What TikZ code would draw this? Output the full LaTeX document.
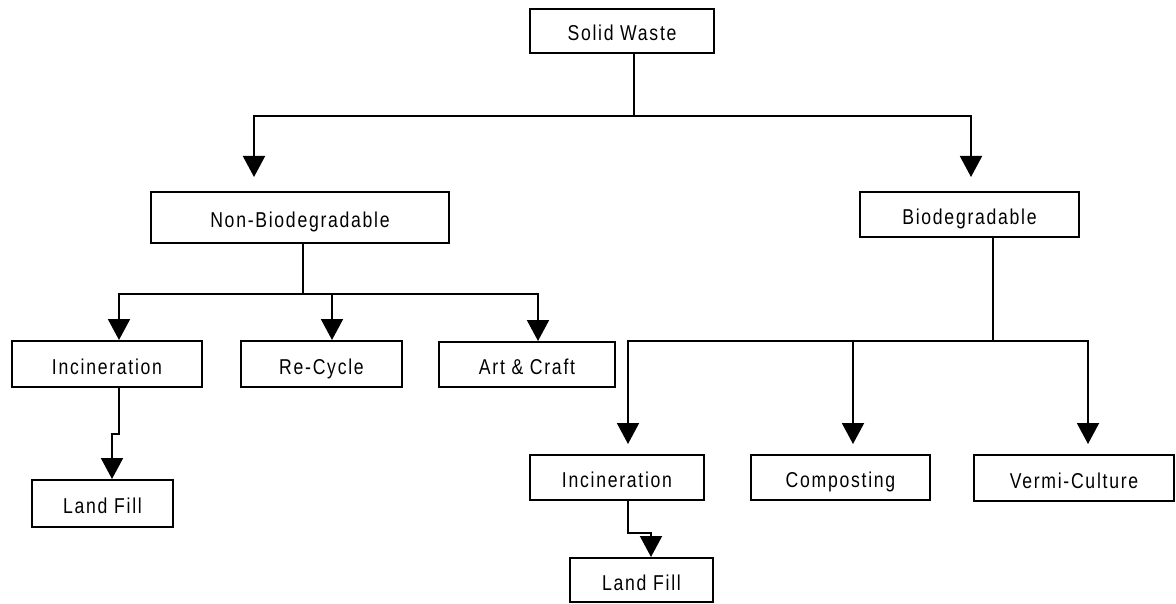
\documentclass[tikz,border=0pt]{standalone}
\usepackage{fontspec}
\setmainfont{Liberation Sans}[FakeStretch=0.82, LetterSpace=8]
\usetikzlibrary{arrows.meta}

\tikzset{
	box/.style={draw, line width=2pt, inner sep=0pt, text height=22pt, text depth=2pt,
		font=\fontsize{21.5}{26}\selectfont},
	arr/.style={line width=2pt, -{Triangle[width=22pt, length=21pt]}}
}

\begin{document}
\begin{tikzpicture}[x=1pt, y=-1pt]
	\useasboundingbox (0,0) rectangle (1176,604);
	
	% top level
	\node[box, minimum width=184pt, minimum height=44pt] (sw) at (622,31) {Solid Waste};
	\node[box, minimum width=298pt, minimum height=51pt] (nonbio) at (300,217.5) {Non-Biodegradable};
	\node[box, minimum width=219pt, minimum height=45pt] (bio) at (969.5,214.5) {Biodegradable};
	
	% non-biodegradable branch
	\node[box, minimum width=190pt, minimum height=46pt] (incl) at (107,364) {Incineration};
	\node[box, minimum width=161pt, minimum height=46pt] (recyc) at (321.5,364) {Re-Cycle};
	\node[box, minimum width=176pt, minimum height=45pt] (art) at (527,364.5) {Art \& Craft};
	\node[box, minimum width=141pt, minimum height=47pt] (landl) at (102.5,503.5) {Land Fill};
	
	% biodegradable branch
	\node[box, minimum width=174pt, minimum height=45pt] (incr) at (617,477.5) {Incineration};
	\node[box, minimum width=179pt, minimum height=45pt] (comp) at (840.5,477.5) {Composting};
	\node[box, minimum width=200pt, minimum height=46pt] (vermi) at (1074,478) {Vermi-Culture};
	\node[box, minimum width=143pt, minimum height=44pt] (landr) at (641.5,580) {Land Fill};
	
	% junctions
	\coordinate (j0) at (634,116);
	\coordinate (j1) at (303,294);
	\coordinate (j2) at (993,341);
	
	% solid waste split
	\draw[line width=2pt] (sw.south -| j0) -- (j0);
	\draw[arr] (j0) -| ([xshift=-46pt, yshift=14pt]nonbio.north);
	\draw[arr] (j0) -| ([xshift=1.5pt, yshift=14pt]bio.north);
	
	% non-biodegradable split
	\draw[line width=2pt] (nonbio.south -| j1) -- (j1);
	\draw[arr] (j1) -| ([xshift=12pt]incl.north);
	\draw[arr] (j1) -| ([xshift=10.5pt]recyc.north);
	\draw[arr] (j1) -| ([xshift=11pt]art.north);
	\draw[arr] ([xshift=12pt]incl.south) -- ++(0,46) -| ([xshift=9.5pt]landl.north);
	
	% biodegradable split
	\draw[line width=2pt] (bio.south -| j2) -- (j2);
	\draw[arr] (j2) -| ([xshift=11pt, yshift=10pt]incr.north);
	\draw[arr] (j2) -| ([xshift=12.5pt, yshift=10pt]comp.north);
	\draw[arr] (j2) -| ([xshift=14pt, yshift=10pt]vermi.north);
	\draw[arr] ([xshift=11pt]incr.south) -- ++(0,32) -| ([xshift=9.5pt]landr.north);
\end{tikzpicture}
\end{document}
